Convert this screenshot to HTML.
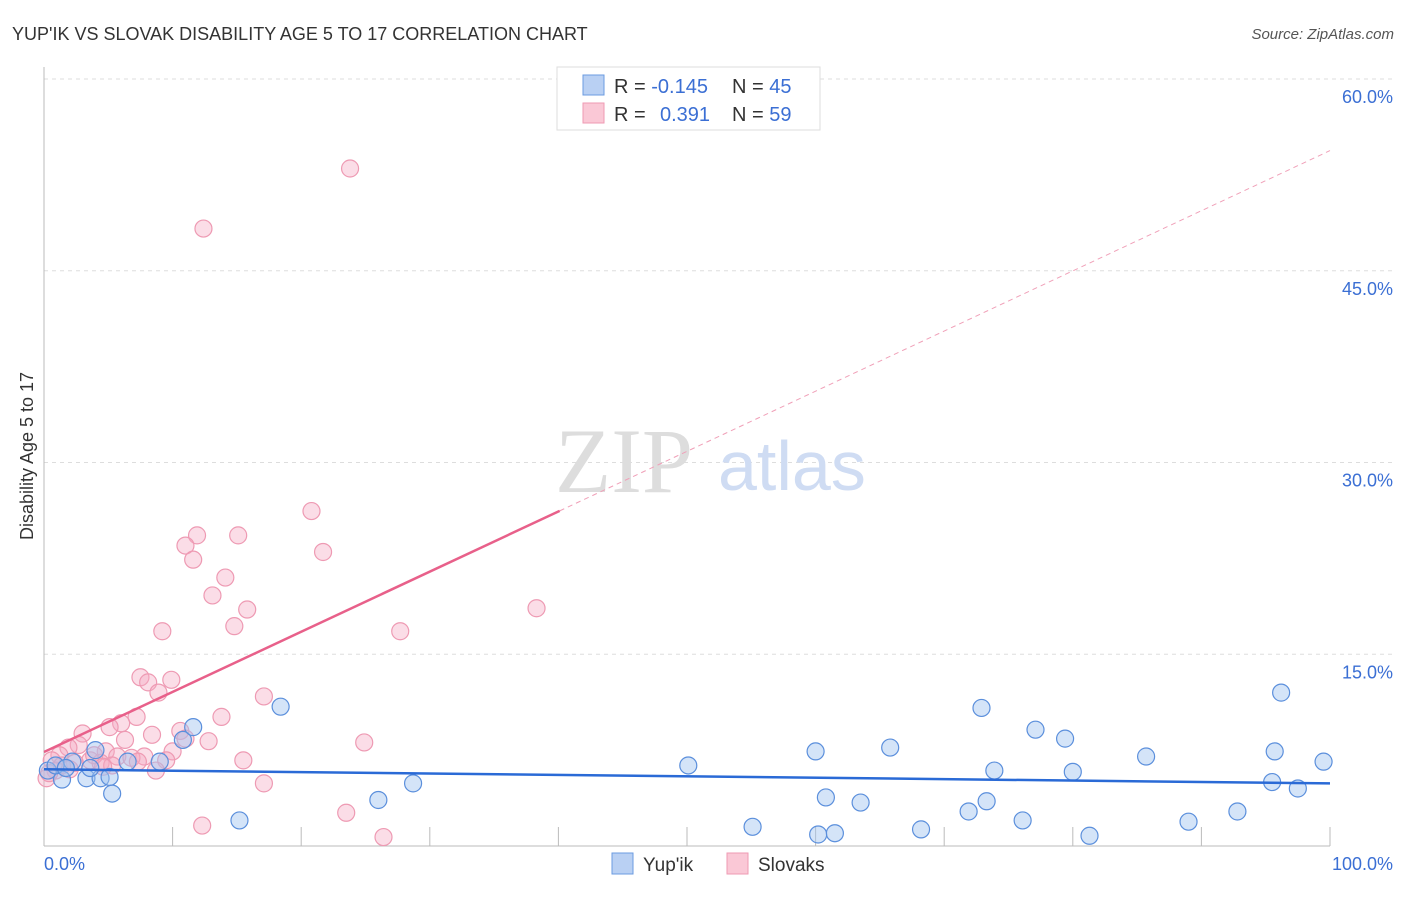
<!DOCTYPE html>
<html><head><meta charset="utf-8"><style>
body{margin:0;background:#fff;font-family:"Liberation Sans",sans-serif}
svg text{font-family:"Liberation Sans",sans-serif}
</style></head><body>
<svg width="1406" height="892">
<text x="12" y="40" font-size="18" fill="#333">YUP'IK VS SLOVAK DISABILITY AGE 5 TO 17 CORRELATION CHART</text>
<text x="1394" y="39" font-size="15" fill="#555" font-style="italic" text-anchor="end">Source: ZipAtlas.com</text>
<text x="0" y="0" font-size="18" fill="#333" transform="translate(33,456) rotate(-90)" text-anchor="middle">Disability Age 5 to 17</text>
<g id="grid"></g>
<text x="555" y="492" font-size="92" fill="#ddd" style="font-family:'Liberation Serif',serif">ZIP</text>
<text x="718" y="490" font-size="70" fill="#cfdcf3">atlas</text>
<g id="trends"></g>
<g id="points"></g>
<g>
<rect x="557" y="67" width="263" height="63" fill="#fff" stroke="#ddd"/>
<rect x="583" y="75" width="21" height="20" fill="#b9d0f3" stroke="#6b9be0"/>
<rect x="583" y="103" width="21" height="20" fill="#fac8d6" stroke="#ef9ab3"/>
<text x="614" y="93" font-size="20" fill="#333">R = <tspan fill="#3b6fd4">-0.145</tspan><tspan x="732">N = </tspan><tspan fill="#3b6fd4">45</tspan></text>
<text x="614" y="121" font-size="20" fill="#333">R = <tspan x="660" fill="#3b6fd4">0.391</tspan><tspan x="732">N = </tspan><tspan fill="#3b6fd4">59</tspan></text>
</g>
<g>
<rect x="612" y="853" width="21" height="21" fill="#b9d0f3" stroke="#6b9be0"/>
<text x="643" y="871" font-size="19" fill="#333">Yup'ik</text>
<rect x="727" y="853" width="21" height="21" fill="#fac8d6" stroke="#ef9ab3"/>
<text x="758" y="871" font-size="19" fill="#333">Slovaks</text>
</g>
<text x="44" y="870" font-size="18" fill="#3b6fd4">0.0%</text>
<text x="1393" y="870" font-size="18" fill="#3b6fd4" text-anchor="end">100.0%</text>
</svg>
<script>
const yTicks=[15,30,45,60];
const yTickLabels=["15.0%","30.0%","45.0%","60.0%"];
const xTicks=[10,20,30,40,50,60,70,80,90,100];
const yupikX=[0.3,1.4,2.2,3.3,4.0,4.4,5.1,5.3,6.5,9.0,10.8,11.6,15.2,18.4,26.0,28.7,50.1,55.1,60.0,60.2,60.8,61.5,63.5,65.8,68.2,71.9,72.9,73.3,73.9,76.1,77.1,79.4,80.0,81.3,85.7,89.0,92.8,95.5,95.7,96.2,97.5,99.5,0.9,1.7,3.6];
const yupikY=[5.9,5.2,6.6,5.3,7.5,5.3,5.4,4.1,6.6,6.6,8.3,9.3,2.0,10.9,3.6,4.9,6.3,1.5,7.4,0.9,3.8,1.0,3.4,7.7,1.3,2.7,10.8,3.5,5.9,2.0,9.1,8.4,5.8,0.8,7.0,1.9,2.7,5.0,7.4,12.0,4.5,6.6,6.3,6.1,6.1];
const slovakX=[23.8,12.4,20.8,11.9,15.1,11.0,21.7,11.6,14.1,13.1,15.8,38.3,14.8,9.2,27.7,7.5,9.9,8.1,8.9,17.1,7.2,13.8,6.0,5.1,10.6,3.0,8.4,6.3,12.8,24.9,2.7,1.9,4.8,10.0,1.2,5.7,7.8,6.8,0.6,3.6,9.5,15.5,4.4,2.4,5.3,0.9,8.7,0.2,17.1,23.5,12.3,26.4,0.4,1.4,3.9,7.3,11.0,2.0,4.6];
const slovakY=[53.0,48.3,26.2,24.3,24.3,23.5,23.0,22.4,21.0,19.6,18.5,18.6,17.2,16.8,16.8,13.2,13.0,12.8,12.0,11.7,10.1,10.1,9.6,9.3,9.0,8.8,8.7,8.3,8.2,8.1,7.9,7.7,7.4,7.4,7.1,7.0,7.0,6.9,6.7,6.7,6.7,6.7,6.5,6.5,6.3,5.9,5.9,5.3,4.9,2.6,1.6,0.7,5.7,6.3,7.1,6.6,8.4,6.0,6.2];
const yupikTrend=[6.0,4.9];   // y at x=0 and x=100
const slovakTrend=[7.35,54.4]; // y at x=0 and x=100
const slovakSolidEnd=40.1;
const X=v=>44+v*12.86, Y=v=>846-v*12.783;
const NS="http://www.w3.org/2000/svg";
function mk(p,t,a){const e=document.createElementNS(NS,t);for(const k in a)e.setAttribute(k,a[k]);p.appendChild(e);return e;}
const grid=document.getElementById('grid');
yTicks.forEach((t,i)=>{
 const l=mk(grid,'line',{x1:44,x2:1395,y1:Y(t),y2:Y(t),stroke:'#ddd','stroke-dasharray':'4,4'});
 
 
 const tx=mk(grid,'text',{x:1393,y:Y(t)+24,'font-size':18,fill:'#3b6fd4','text-anchor':'end'});
 tx.textContent=yTickLabels[i];
 
 
});
const ax=mk(grid,'line',{x1:44,x2:44,y1:67,y2:846,stroke:'#bbb'});


const bx=mk(grid,'line',{x1:44,x2:1330,y1:846,y2:846,stroke:'#bbb'});


xTicks.forEach(t=>{
 const l=mk(grid,'line',{x1:X(t),x2:X(t),y1:827,y2:846,stroke:'#bbb'});
 
 
});
const pts=document.getElementById('points');
slovakX.forEach((x,i)=>{
 const c=mk(pts,'circle',{cx:X(x),cy:Y(slovakY[i]),r:8.5,fill:'rgba(246,170,195,0.4)',stroke:'#ee9ab3','stroke-width':1.2});
 
 
});
yupikX.forEach((x,i)=>{
 const c=mk(pts,'circle',{cx:X(x),cy:Y(yupikY[i]),r:8.5,fill:'rgba(160,195,240,0.45)',stroke:'#5b8fdc','stroke-width':1.2});
 
 
});
const tr=document.getElementById('trends');
const sy=x=>slovakTrend[0]+(slovakTrend[1]-slovakTrend[0])*x/100;
const t1=mk(tr,'line',{x1:X(0),y1:Y(sy(0)),x2:X(slovakSolidEnd),y2:Y(sy(slovakSolidEnd)),stroke:'#e8608a','stroke-width':2.5});


const t2=mk(tr,'line',{x1:X(slovakSolidEnd),y1:Y(sy(slovakSolidEnd)),x2:X(100),y2:Y(sy(100)),stroke:'#f0a0b8','stroke-width':1,'stroke-dasharray':'5,4'});


const t3=mk(tr,'line',{x1:X(0),y1:Y(yupikTrend[0]),x2:X(100),y2:Y(yupikTrend[1]),stroke:'#2a6ad6','stroke-width':2.5});


pts.parentNode.appendChild(tr);
</script>
</body></html>
